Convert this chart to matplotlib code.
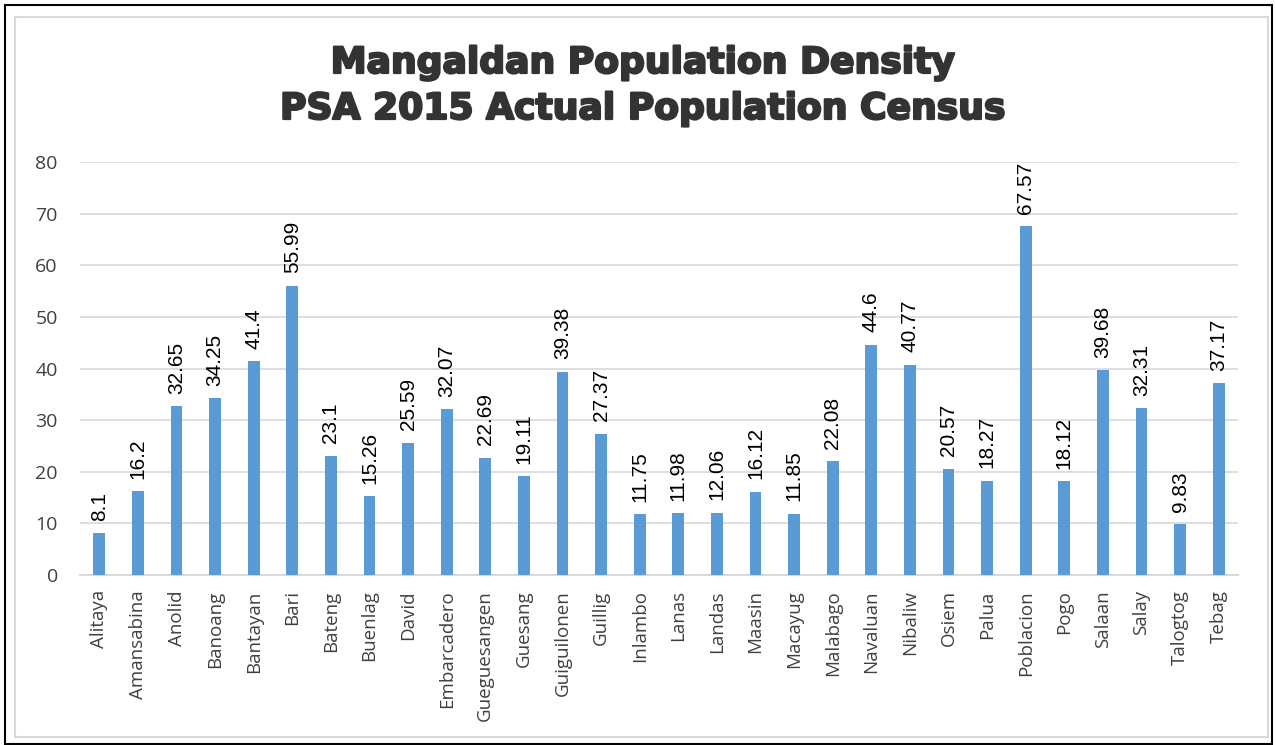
import matplotlib.pyplot as plt
import matplotlib.patheffects as pe
from matplotlib.patches import Rectangle

# barangay names and density values
barangays = ["Alitaya", "Amansabina", "Anolid", "Banoang", "Bantayan", "Bari",
             "Bateng", "Buenlag", "David", "Embarcadero", "Gueguesangen", "Guesang",
             "Guiguilonen", "Guillig", "Inlambo", "Lanas", "Landas", "Maasin",
             "Macayug", "Malabago", "Navaluan", "Nibaliw", "Osiem", "Palua",
             "Poblacion", "Pogo", "Salaan", "Salay", "Talogtog", "Tebag"]
density = [8.1, 16.2, 32.65, 34.25, 41.4, 55.99, 23.1, 15.26, 25.59, 32.07,
           22.69, 19.11, 39.38, 27.37, 11.75, 11.98, 12.06, 16.12, 11.85, 22.08,
           44.6, 40.77, 20.57, 18.27, 67.57, 18.12, 39.68, 32.31, 9.83, 37.17]
value_labels = ["8.1", "16.2", "32.65", "34.25", "41.4", "55.99", "23.1", "15.26",
                "25.59", "32.07", "22.69", "19.11", "39.38", "27.37", "11.75", "11.98",
                "12.06", "16.12", "11.85", "22.08", "44.6", "40.77", "20.57", "18.27",
                "67.57", "18.12", "39.68", "32.31", "9.83", "37.17"]
yticks = [0, 10, 20, 30, 40, 50, 60, 70, 80]

W, H = 1276, 745
fig = plt.figure(figsize=(W / 100, H / 100), dpi=100)
ax = fig.add_axes([80 / W, 1 - 575 / H, (1238 - 80) / W, (575 - 162) / H])

x = range(len(barangays))
ax.bar(x, density, width=0.31, color="#5B9BD5", zorder=3)
for i, (v, lab) in enumerate(zip(density, value_labels)):
    ax.annotate(lab, (i, v), xytext=(0, 9), textcoords="offset points",
                rotation=90, ha="center", va="bottom", fontsize=15,
                family="Liberation Sans", color="black", zorder=4)

ax.set_xlim(-0.5, len(barangays) - 0.5)
ax.set_ylim(0, 80)
ax.set_yticks(yticks)
ax.set_xticks(list(x))
ax.set_xticklabels(barangays, rotation=90, fontsize=13.5, family="Open Sans", color="#404040")
ax.tick_params(axis="y", labelsize=14, labelcolor="#404040", length=0, pad=16)
ax.tick_params(axis="x", length=0, pad=11)
for lbl in ax.get_yticklabels():
    lbl.set_family("Open Sans")
ax.grid(axis="y", color="#D9D9D9", lw=1.2, zorder=0)
for s in ["top", "right", "left"]:
    ax.spines[s].set_visible(False)
ax.spines["bottom"].set_color("#D9D9D9")
ax.spines["bottom"].set_linewidth(1.5)

title_fx = [pe.withStroke(linewidth=1.6, foreground="#333333")]
fig.text(0.504, 1 - 63 / H, "Mangaldan Population Density", ha="center", va="center",
         fontsize=26, fontweight="heavy", family="DejaVu Sans", color="#333333",
         path_effects=title_fx)
fig.text(0.504, 1 - 109 / H, "PSA 2015 Actual Population Census", ha="center", va="center",
         fontsize=26, fontweight="heavy", family="DejaVu Sans", color="#333333",
         path_effects=title_fx)

# chart area border and outer frame
fig.patches.append(Rectangle((15 / W, 1 - 737 / H), (1268 - 15) / W, (737 - 17) / H,
                             transform=fig.transFigure, fill=False, ec="#D9D9D9", lw=1.5))
fig.patches.append(Rectangle((5 / W, 0.002), (1272 - 5) / W, 1 - 5 / H - 0.002,
                             transform=fig.transFigure, fill=False, ec="black", lw=1.5))

fig.savefig("out.png", dpi=100)
